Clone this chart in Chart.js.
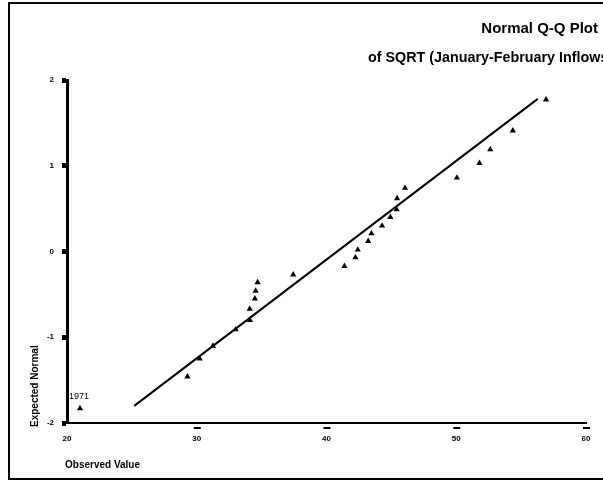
<!DOCTYPE html>
<html>
<head>
<meta charset="utf-8">
<script src="https://cdn.jsdelivr.net/npm/chart.js@4"></script>
<style>
html,body{margin:0;padding:0;background:#fff;overflow:hidden;}
#wrap{position:relative;width:603px;height:481px;}
</style>
</head>
<body>
<div id="wrap"><canvas id="c"></canvas></div>
<script>
// ---- data ----
const observed = [21.0, 29.28, 30.23, 31.25, 33.0, 34.1, 34.08, 34.48, 34.54, 34.69, 37.44, 41.38, 42.23, 42.41, 43.21, 43.46, 44.28, 44.92, 45.41, 45.44, 46.05, 50.05, 51.79, 52.62, 54.36, 56.92];
const expected = [-1.83, -1.46, -1.25, -1.10, -0.91, -0.80, -0.67, -0.55, -0.46, -0.36, -0.27, -0.17, -0.07, 0.02, 0.12, 0.21, 0.30, 0.40, 0.49, 0.62, 0.74, 0.86, 1.03, 1.19, 1.41, 1.77];
const pointLabels = ['1971'];
const lineX = [25.18, 56.28];
const lineY = [-1.80, 1.78];
const xTicks = [20, 30, 40, 50, 60];
const yTicks = [-2, -1, 0, 1, 2];
const title1 = 'Normal Q-Q Plot';
const title2 = 'of SQRT (January-February Inflows)';
const xTitle = 'Observed Value';
const yTitle = 'Expected Normal';

const FONT = '"Liberation Sans", Arial, sans-serif';

const decor = {
  id: 'decor',
  beforeDraw(chart) {
    const c = chart.ctx;
    c.save();
    c.fillStyle = '#fff';
    c.fillRect(0, 0, chart.width, chart.height);
    c.restore();
  },
  afterDraw(chart) {
    const c = chart.ctx;
    const xs = chart.scales.x;
    c.save();
    c.strokeStyle = '#000';
    c.lineWidth = 2;
    c.strokeRect(9, 3, chart.width + 20, 476);
    c.fillStyle = '#000';
    c.textBaseline = 'middle';
    c.font = 'bold 15px ' + FONT;
    c.textAlign = 'right';
    c.fillText(title1, 598, 29);
    c.textAlign = 'left';
    c.save();
    c.translate(368, 58);
    c.scale(0.955, 1);
    c.fillText(title2, 0, 0);
    c.restore();
    c.font = 'bold 10px ' + FONT;
    c.fillText(xTitle, 65, 465);
    c.save();
    c.translate(35, 427);
    c.rotate(-Math.PI / 2);
    c.fillText(yTitle, 0, 0);
    c.restore();
    // x tick dashes
    xTicks.forEach(v => {
      if (v === xs.min) return;
      const px = xs.getPixelForValue(v);
      c.fillRect(px - 3, 427, 7, 2);
    });
    // point labels
    c.font = '9px ' + FONT;
    const meta = chart.getDatasetMeta(1);
    pointLabels.forEach((t, i) => {
      if (!t) return;
      const el = meta.data[i];
      c.fillText(t, el.x - 11, el.y - 12);
    });
    c.restore();
  }
};

new Chart(document.getElementById('c'), {
  data: {
    datasets: [
      {
        type: 'line',
        data: lineX.map((x, i) => ({x: x, y: lineY[i]})),
        borderColor: '#000',
        borderWidth: 2,
        pointRadius: 0,
        fill: false
      },
      {
        type: 'scatter',
        data: observed.map((x, i) => ({x: x, y: expected[i]})),
        pointStyle: 'triangle',
        pointRadius: 3.6,
        backgroundColor: '#000',
        borderColor: '#000',
        borderWidth: 0
      }
    ]
  },
  plugins: [decor],
  options: {
    responsive: true,
    maintainAspectRatio: false,
    animation: false,
    plugins: { legend: {display: false}, tooltip: {enabled: false}, title: {display: false} },
    layout: { padding: {left: 0, right: 17, top: 80, bottom: 0} },
    scales: {
      x: {
        type: 'linear',
        min: 20, max: 60,
        afterBuildTicks: s => { s.ticks = xTicks.map(v => ({value: v})); },
        afterFit: s => { s.height = 58; },
        grid: { display: true, drawOnChartArea: false, drawTicks: false },
        border: { display: true, color: '#000', width: 2 },
        ticks: { color: '#000', font: {family: FONT, size: 8, weight: 'bold'}, padding: 11, maxRotation: 0 }
      },
      y: {
        type: 'linear',
        min: -2, max: 2,
        afterBuildTicks: s => { s.ticks = yTicks.map(v => ({value: v})); },
        afterFit: s => { s.width = 67; },
        grid: { display: true, drawOnChartArea: false, drawTicks: true, tickLength: 5, tickWidth: 5, color: '#000' },
        border: { display: true, color: '#000', width: 3 },
        ticks: { color: '#000', font: {family: FONT, size: 8, weight: 'bold'}, padding: 8 }
      }
    }
  }
});
</script>
</body>
</html>
